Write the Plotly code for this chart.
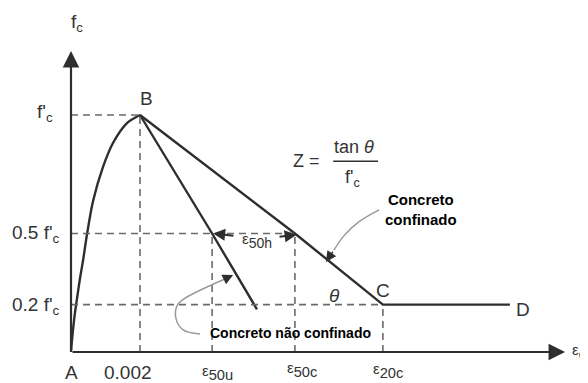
import plotly.graph_objects as go

# strain in per mil (0.002 -> 2.0), stress as fraction of f'c
asc_strain = [0, 0.025, 0.058, 0.11, 0.174, 0.26, 0.348, 0.464, 0.638, 0.928, 1.217, 1.623, 2.0]
asc_stress = [0, 0.045, 0.093, 0.16, 0.225, 0.31, 0.385, 0.497, 0.636, 0.781, 0.882, 0.966, 1.0]

unconf_strain = [2.0, 4.09, 5.39]
unconf_stress = [1.0, 0.5, 0.18]

conf_strain = [2.0, 6.49, 9.04, 12.72]
conf_stress = [1.0, 0.5, 0.2, 0.2]

eps_0 = 2.0
eps_50u = 4.09
eps_50c = 6.49
eps_20c = 9.04

line_col = '#2e2e2e'
dash_col = '#6a6a6a'
txt_col = '#333333'

fig = go.Figure()

# curves
fig.add_trace(go.Scatter(x=asc_strain, y=asc_stress, mode='lines',
                         line=dict(color=line_col, width=2.4, shape='spline', smoothing=0.8)))
fig.add_trace(go.Scatter(x=unconf_strain, y=unconf_stress, mode='lines',
                         line=dict(color=line_col, width=2.4)))
fig.add_trace(go.Scatter(x=conf_strain, y=conf_stress, mode='lines',
                         line=dict(color=line_col, width=2.4)))

# dashed guides
guides = [
    ([0, eps_0], [1, 1]),
    ([0, eps_50c], [0.5, 0.5]),
    ([0, eps_20c], [0.2, 0.2]),
    ([eps_0, eps_0], [0, 1]),
    ([eps_50u, eps_50u], [0, 0.5]),
    ([eps_50c, eps_50c], [0, 0.5]),
    ([eps_20c, eps_20c], [0, 0.2]),
]
for gx, gy in guides:
    fig.add_trace(go.Scatter(x=gx, y=gy, mode='lines',
                             line=dict(color=dash_col, width=1.6, dash='7px,5px')))

# grey leader curves
fig.add_trace(go.Scatter(x=[8.93, 8.35, 7.91, 7.62], y=[0.6, 0.55, 0.49, 0.43],
                         mode='lines', line=dict(color='#9a9a9a', width=1.5, shape='spline')))
fig.add_trace(go.Scatter(x=[3.74, 3.25, 3.04, 3.07, 3.22, 4.46],
                         y=[0.076, 0.093, 0.143, 0.194, 0.219, 0.308],
                         mode='lines', line=dict(color='#9a9a9a', width=1.5, shape='spline')))

# fraction bar of Z = tan(theta) / f'c
fig.add_trace(go.Scatter(x=[7.6, 8.9], y=[0.805, 0.805], mode='lines',
                         line=dict(color=txt_col, width=1.5)))

ann = []

def arrow(x, y, ax, ay, col=line_col, w=2, size=1.4):
    ann.append(dict(x=x, y=y, ax=ax, ay=ay, xref='x', yref='y', axref='x', ayref='y',
                    showarrow=True, arrowhead=2, arrowsize=size, arrowwidth=w,
                    arrowcolor=col, text=''))

# axes
arrow(0, 1.27, 0, 0, w=2.2, size=1.5)
arrow(14.32, 0, 0, 0, w=2.2, size=1.5)

# epsilon 50h arrows
arrow(eps_50u + 0.03, 0.5, 4.75, 0.49, size=1.2)
arrow(eps_50c + 0.05, 0.495, 6.0, 0.485, size=1.2)

# leader arrowheads
arrow(7.39, 0.38, 7.62, 0.43, col=line_col, w=1.5, size=1.4)
arrow(4.7, 0.325, 4.46, 0.308, col=line_col, w=1.5, size=1.4)

def label(x, y, text, size=19, xanchor='center', col=txt_col, family='Liberation Sans'):
    ann.append(dict(x=x, y=y, xref='x', yref='y', text=text, showarrow=False,
                    xanchor=xanchor, yanchor='middle',
                    font=dict(size=size, color=col, family=family)))

def eps(sub):
    return '<span style="font-size:15px">ε</span><sub>' + sub + '</sub>'

label(0.17, 1.39, 'f<sub>c</sub>')
label(-0.75, 1.01, "f'<sub>c</sub>")
label(-0.26, 0.5, "0.5 f'<sub>c</sub>", xanchor='right')
label(-0.26, 0.195, "0.2 f'<sub>c</sub>", xanchor='right')
label(0, -0.088, 'A')
label(1.65, -0.085, '0.002')
label(4.25, -0.085, eps('50u'), size=21)
label(6.7, -0.072, eps('50c'), size=21)
label(9.2, -0.078, eps('20c'), size=21)
label(14.45, 0.0, eps('c'), size=21, xanchor='left')
label(5.4, 0.47, eps('50h'), size=20)
label(2.2, 1.07, 'B')
label(9.04, 0.26, 'C')
label(13.1, 0.18, 'D')
label(7.65, 0.24, '<i>θ</i>')
label(9.04, 0.6, '<b>Concreto<br>confinado</b>', size=15, xanchor='left', col='#000000')
label(3.97, 0.08, '<b>Concreto não confinado</b>', size=14, xanchor='left', col='#000000')

# Z = tan(theta) / f'c
label(6.84, 0.805, 'Z =', size=18)
label(8.2, 0.865, 'tan <i>θ</i>', size=18)
label(8.15, 0.73, "f'<sub>c</sub>", size=18)

# the page body has an 8px margin, so ranges are set for that offset
fig.update_layout(
    width=588, height=383,
    margin=dict(l=0, r=0, t=0, b=0),
    paper_bgcolor='white', plot_bgcolor='white',
    showlegend=False,
    xaxis=dict(range=[-1.826, 15.217], visible=False, fixedrange=True),
    yaxis=dict(range=[-0.1646, 1.4515], visible=False, fixedrange=True),
    annotations=ann,
)

fig.write_html("out.html")
